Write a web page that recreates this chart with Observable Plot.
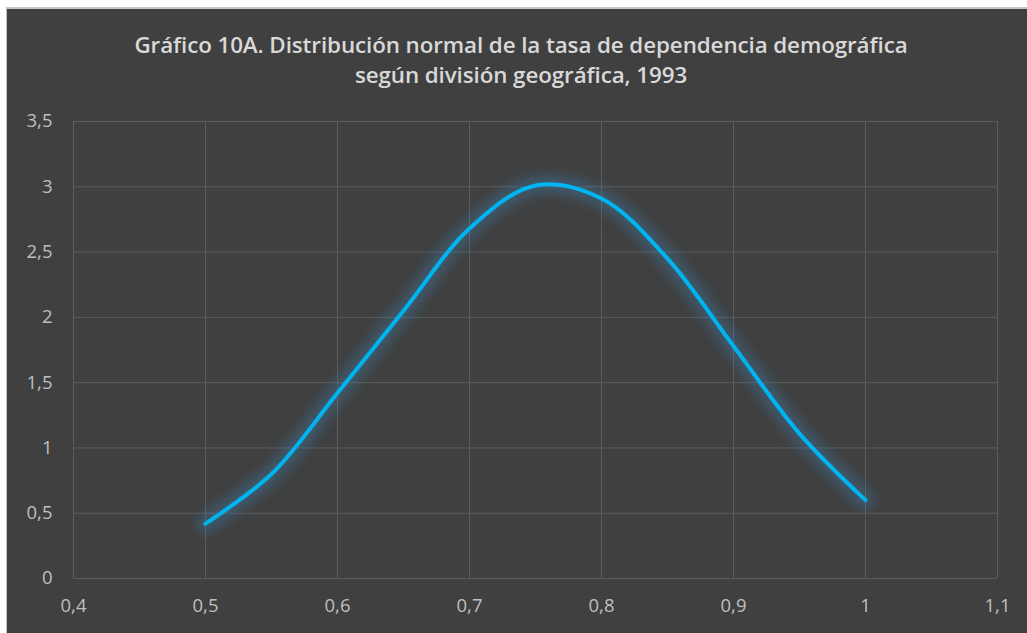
<!DOCTYPE html>
<html>
<head>
<meta charset="utf-8">
<script src="https://cdn.jsdelivr.net/npm/d3@7"></script>
<script src="https://cdn.jsdelivr.net/npm/@observablehq/plot@0.6"></script>
<style>
  html, body { margin: 0; padding: 0; background: #ffffff; width: 1027px; height: 633px; overflow: hidden; }
  #frame { position: absolute; left: 6px; top: 7px; width: 1021px; height: 626px;
           border-left: 1px solid #c0c0c0; border-top: 2px solid #c6c6c6; background: #404040; overflow: hidden; }
  #title { position: absolute; left: 0; top: 21px; width: 1028px; text-align: center;
           font-family: "Open Sans", sans-serif; font-weight: 600; font-size: 22.4px; line-height: 30px;
           color: #d9d9d9; z-index: 2; letter-spacing: -0.1px; }
  #chart { position: absolute; left: 0; top: 0; }
</style>
</head>
<body>
<div id="frame">
  <div id="title">Gráfico 10A. Distribución normal de la tasa de dependencia demográfica<br>según división geográfica, 1993</div>
  <div id="chart"></div>
</div>
<script>
// Data
const tasa = [0.5, 0.55, 0.6, 0.65, 0.7, 0.75, 0.8, 0.85, 0.9, 0.95, 1.0];
const densidad = [0.42, 0.80, 1.42, 2.05, 2.68, 3.01, 2.91, 2.45, 1.78, 1.11, 0.60];
const xTicks = [0.4, 0.5, 0.6, 0.7, 0.8, 0.9, 1.0, 1.1];
const yTicks = [0, 0.5, 1, 1.5, 2, 2.5, 3, 3.5];

const data = tasa.map((x, i) => ({x, y: densidad[i]}));
const fmt = v => String(+v.toFixed(1)).replace(".", ",");

const gridColor = "#5c5c5c";
const plot = Plot.plot({
  width: 1021,
  height: 626,
  marginLeft: 66,
  marginRight: 31,
  marginTop: 112,
  marginBottom: 57,
  style: { background: "transparent", fontFamily: "Open Sans, sans-serif", fontSize: "18.5px", color: "#bfbfbf", overflow: "visible" },
  x: { domain: [0.4, 1.1], ticks: xTicks, tickFormat: fmt, tickSize: 0, tickPadding: 20, label: null },
  y: { domain: [0, 3.5], ticks: yTicks, tickFormat: fmt, tickSize: 0, tickPadding: 21, label: null },
  marks: [
    Plot.gridX(xTicks, { stroke: gridColor, strokeOpacity: 1, strokeWidth: 1 }),
    Plot.gridY(yTicks, { stroke: gridColor, strokeOpacity: 1, strokeWidth: 1 }),
    Plot.line(data, { x: "x", y: "y", curve: "catmull-rom", stroke: "#3a80b4", strokeWidth: 18, strokeOpacity: 0.38, strokeLinecap: "round" }),
    Plot.line(data, { x: "x", y: "y", curve: "catmull-rom", stroke: "#00b4f0", strokeWidth: 4, strokeLinecap: "round" })
  ]
});
document.getElementById("chart").appendChild(plot);

// soft glow for the first line
const svg = d3.select(plot);
const defs = svg.insert("defs", ":first-child");
const f = defs.append("filter").attr("id", "glow").attr("x", "-20%").attr("y", "-20%").attr("width", "140%").attr("height", "140%");
f.append("feGaussianBlur").attr("stdDeviation", 6);
const lines = plot.querySelectorAll('g[aria-label="line"]');
if (lines.length) lines[0].setAttribute("filter", "url(#glow)");
svg.selectAll('g[aria-label="x-axis tick label"] text, g[aria-label="y-axis tick label"] text').attr("fill", "#bfbfbf");
</script>
</body>
</html>
